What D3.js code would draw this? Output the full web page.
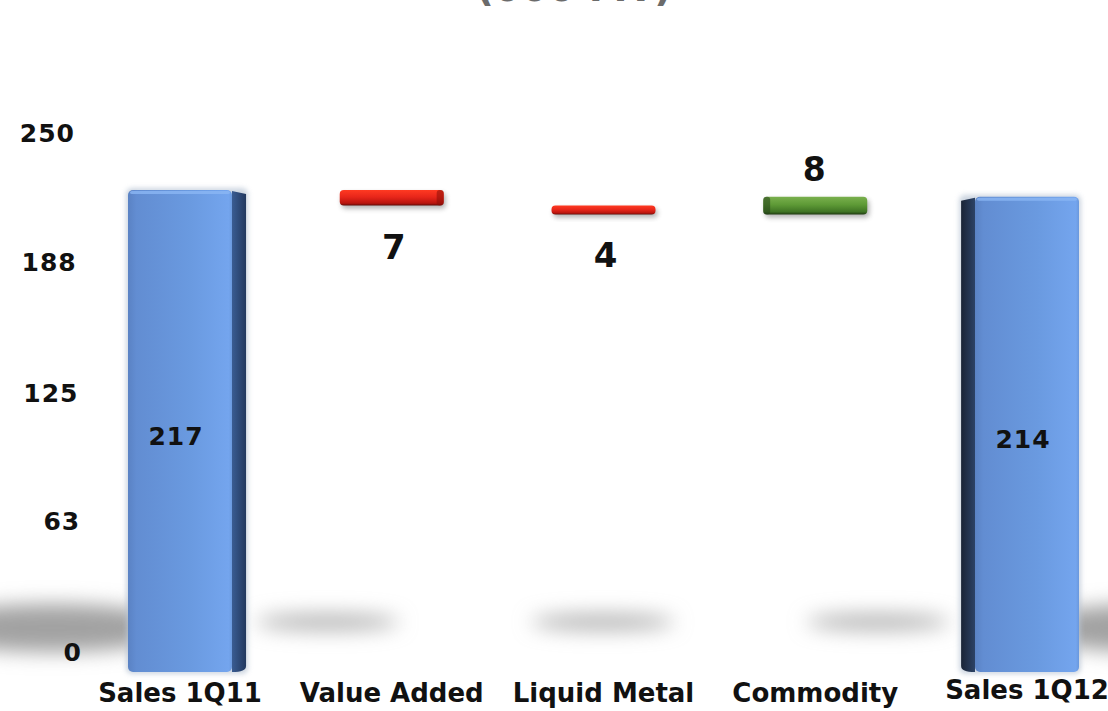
<!DOCTYPE html>
<html>
<head>
<meta charset="utf-8">
<script src="https://cdn.jsdelivr.net/npm/d3@7"></script>
<style>
  html, body { margin: 0; padding: 0; background: #ffffff; }
  svg { display: block; }
  text { font-family: "DejaVu Sans", Verdana, sans-serif; font-weight: bold; }
</style>
</head>
<body>
<div id="chart"></div>
<script>
// Sales volume bridge, 1Q11 -> 1Q12
const titleText = "(000 MT)";
const categories = ["Sales 1Q11", "Value Added", "Liquid Metal", "Commodity", "Sales 1Q12"];
const kinds = ["total", "delta", "delta", "delta", "total"];
const values = [217, -7, -4, 8, 214];
const tickValues = [0, 63, 125, 188, 250];
const tickLabels = ["0", "63", "125", "188", "250"];

const W = 1108, H = 711;
const svg = d3.select("#chart").append("svg").attr("width", W).attr("height", H);
const defs = svg.append("defs");

// Front plane of the bars and the (recessed) back wall the tick labels sit on
const yBar = d3.scaleLinear().domain([0, 250]).range([672, 116.7]);
const yWall = d3.scaleLinear().domain([0, 250]).range([652, 133]);
const xTick = d3.scaleLinear().domain([0, 250]).range([82, 75]);
const x = d3.scalePoint().domain(categories).range([180, 1027]);
const barW = 104;
const vanishX = 606;

// Waterfall extents
let running = 0;
const bars = categories.map((c, i) => {
  let lo, hi;
  if (kinds[i] === "total") { lo = 0; hi = values[i]; running = values[i]; }
  else { const prev = running; running += values[i]; lo = Math.min(prev, running); hi = Math.max(prev, running); }
  return { cat: c, kind: kinds[i], value: values[i], lo, hi, i };
});

// Gradients and filters
function hGrad(id, stops) {
  const g = defs.append("linearGradient").attr("id", id).attr("x1", 0).attr("x2", 1).attr("y1", 0).attr("y2", 0);
  stops.forEach(s => g.append("stop").attr("offset", s[0]).attr("stop-color", s[1]));
}
function vGrad(id, stops) {
  const g = defs.append("linearGradient").attr("id", id).attr("x1", 0).attr("x2", 0).attr("y1", 0).attr("y2", 1);
  stops.forEach(s => g.append("stop").attr("offset", s[0]).attr("stop-color", s[1]));
}
hGrad("blueFront", [[0, "#5a82c4"], [0.08, "#628dd2"], [0.6, "#6a9ae0"], [0.97, "#74a5ee"], [1, "#6a98dc"]]);
hGrad("blueSideR", [[0, "#3a5c92"], [1, "#22385e"]]);
hGrad("blueSideL", [[0, "#1a2436"], [1, "#2c4266"]]);
vGrad("redFront", [[0, "#ff3a22"], [0.45, "#e8261a"], [0.85, "#b8150e"], [1, "#5e0a06"]]);
vGrad("greenFront", [[0, "#7ab04e"], [0.45, "#5e9a36"], [0.85, "#3f7424"], [1, "#1f3a10"]]);

defs.append("filter").attr("id", "floorBlur").attr("x", "-50%").attr("y", "-200%").attr("width", "200%").attr("height", "500%")
  .append("feGaussianBlur").attr("stdDeviation", 10);
defs.append("filter").attr("id", "softBlur").attr("x", "-20%").attr("y", "-50%").attr("width", "140%").attr("height", "200%")
  .append("feGaussianBlur").attr("stdDeviation", 2.5);

// Title (runs off the top edge)
svg.append("text").attr("x", 574).attr("y", 1).attr("text-anchor", "middle")
  .attr("font-size", 39).attr("fill", "#6b6b6b").text(titleText);

// Floor shadows, spread outward from the vanishing point
const shadows = svg.append("g").attr("filter", "url(#floorBlur)");
bars.forEach(b => {
  const cx = x(b.cat);
  const sx = cx + (cx - vanishX) * 0.3;
  const big = b.kind === "total";
  shadows.append("ellipse")
    .attr("cx", sx).attr("cy", big ? 628 : 622)
    .attr("rx", big ? 125 : 72).attr("ry", big ? 24 : 8)
    .attr("fill", big ? "#a2a2a2" : "#b0b0b0");
});

// Bars
const gBars = svg.append("g");
bars.forEach(b => {
  const cx = x(b.cat);
  const x0 = cx - barW / 2, x1 = cx + barW / 2;
  const top = yBar(b.hi), bot = yBar(b.lo);
  const dx = (vanishX - cx) * 0.033;
  const g = gBars.append("g");

  if (b.kind === "total") {
    // soft halo
    g.append("rect").attr("x", Math.min(x0, x0 + dx) - 2).attr("y", top - 2)
      .attr("width", barW + Math.abs(dx) + 4).attr("height", bot - top + 4).attr("rx", 6)
      .attr("fill", "#b8c4d4").attr("filter", "url(#softBlur)").attr("opacity", 0.7);
    // side face
    const sx = dx > 0 ? x1 : x0;
    g.append("path")
      .attr("d", `M${sx},${top + 1} L${sx + dx},${top + 4} L${sx + dx},${bot - 6} Q${sx + dx},${bot} ${sx},${bot} Z`)
      .attr("fill", dx > 0 ? "url(#blueSideR)" : "url(#blueSideL)");
    // front face
    g.append("rect").attr("x", x0).attr("y", top).attr("width", barW).attr("height", bot - top)
      .attr("rx", 5).attr("fill", "url(#blueFront)");
    // top highlight
    g.append("rect").attr("x", x0 + 2).attr("y", top + 1).attr("width", barW - 4).attr("height", 3)
      .attr("rx", 2).attr("fill", "#8bb6f4").attr("opacity", 0.8);
  } else {
    const fill = b.value < 0 ? "url(#redFront)" : "url(#greenFront)";
    const endCol = b.value < 0 ? "#8a0f08" : "#24401a";
    // drop shadow
    g.append("rect").attr("x", x0 + 2).attr("y", top + 3).attr("width", barW).attr("height", bot - top)
      .attr("rx", 4).attr("fill", "#555").attr("opacity", 0.45).attr("filter", "url(#softBlur)");
    g.append("rect").attr("x", x0).attr("y", top).attr("width", barW).attr("height", bot - top)
      .attr("rx", 4).attr("fill", fill);
    // darker end cap on the side facing away from the centre
    if (Math.abs(dx) > 2) {
      const ex = dx > 0 ? x1 - Math.abs(dx) : x0;
      g.append("rect").attr("x", ex).attr("y", top).attr("width", Math.abs(dx)).attr("height", bot - top)
        .attr("rx", 3).attr("fill", endCol).attr("opacity", 0.55);
    }
  }
});

// Value labels
const gLab = svg.append("g").attr("fill", "#111");
bars.forEach(b => {
  const cx = x(b.cat);
  if (b.kind === "total") {
    gLab.append("text").attr("x", cx - 4).attr("y", yBar(b.value / 2) + 14)
      .attr("text-anchor", "middle").attr("font-size", 25).attr("letter-spacing", 1).text(b.value);
  } else if (b.value < 0) {
    gLab.append("text").attr("x", cx + 2).attr("y", yBar(b.lo) + 53)
      .attr("text-anchor", "middle").attr("font-size", 34).text(Math.abs(b.value));
  } else {
    gLab.append("text").attr("x", cx - 1).attr("y", yBar(b.hi) - 16)
      .attr("text-anchor", "middle").attr("font-size", 33).text(b.value);
  }
});

// Value axis labels on the back wall
const gAxis = svg.append("g").attr("fill", "#111");
tickValues.forEach((v, i) => {
  gAxis.append("text").attr("x", xTick(v)).attr("y", yWall(v) + 9)
    .attr("text-anchor", "end").attr("font-size", 25).attr("letter-spacing", 1).text(tickLabels[i]);
});

// Category axis labels
const gCat = svg.append("g").attr("fill", "#111");
categories.forEach((c, i) => {
  gCat.append("text").attr("x", x(c)).attr("y", i === categories.length - 1 ? 699 : 702)
    .attr("text-anchor", "middle").attr("font-size", 26).text(c);
});
</script>
</body>
</html>
